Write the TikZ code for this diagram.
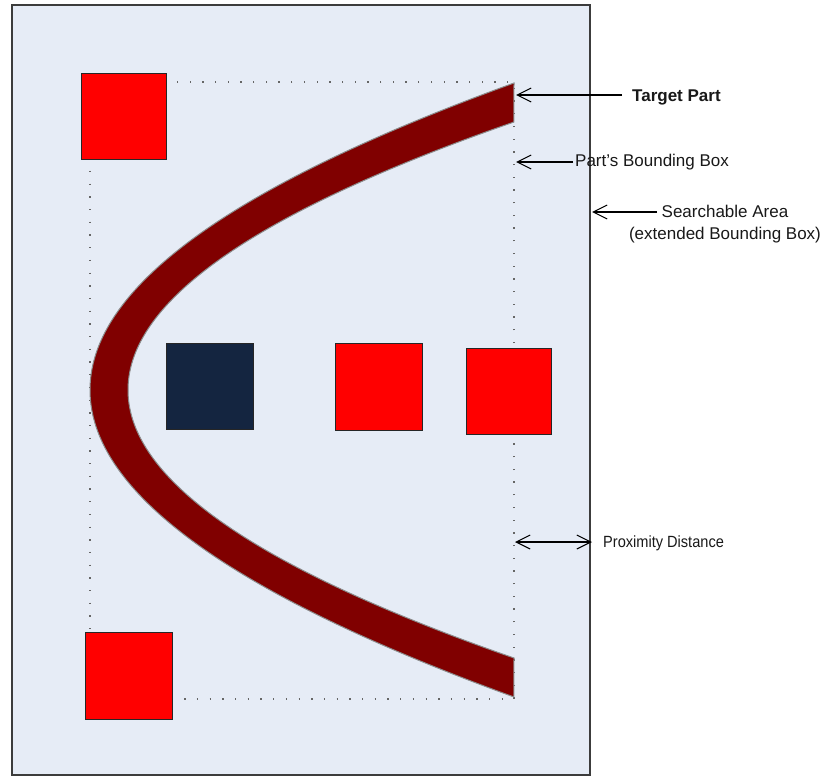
\documentclass[tikz,border=0pt]{standalone}
\usepackage{fontspec}
\setmainfont{Liberation Sans}
\newfontfamily\condfont[FakeStretch=0.9]{Liberation Sans}
\usetikzlibrary{arrows.meta}
\definecolor{bgblue}{RGB}{230,236,246}
\definecolor{framegray}{RGB}{60,60,60}
\definecolor{bandred}{RGB}{128,0,0}
\definecolor{navy}{RGB}{20,37,64}
\definecolor{txt}{RGB}{25,25,25}
\tikzset{
  sq/.style={draw=black!85, line width=1pt, inner sep=0pt, minimum width=86pt, minimum height=86pt},
  redsq/.style={sq, fill=red},
  navysq/.style={sq, fill=navy},
  bbox/.style={draw=black!60, line width=1.3pt, dash pattern=on 1.3pt off 11.4pt},
  lbl/.style={text=txt, inner sep=0pt, font=\fontsize{17}{22}\selectfont},
  ptr/.style={draw=black, line width=1.1pt, -{Straight Barb[length=14pt,width=14pt,line width=1.1pt]}},
  dptr/.style={draw=black, line width=1.1pt, {Straight Barb[length=14pt,width=14pt,line width=1.1pt]}-{Straight Barb[length=14pt,width=14pt,line width=1.1pt]}}
}
\begin{document}
\begin{tikzpicture}[x=1pt,y=-1pt]
\useasboundingbox (0,0) rectangle (824,776);
\fill[white] (0,0) rectangle (824,776);
% searchable area
\draw[fill=bgblue, draw=framegray, line width=1.6pt] (12,5) rectangle (590,775);
% part's bounding box
\draw[bbox] (90,82) rectangle (514,699);
% target part (band)
\draw[fill=bandred, draw=black!45, line width=1pt]
  plot[smooth, domain=-1:1, samples=80] ({90+424*\x*\x},{390+307*\x})
  -- (514,658)
  -- plot[smooth, domain=1:-1, samples=80] ({128+386*\x*\x},{390+268*\x})
  -- cycle;
% squares
\node[redsq, minimum width=85pt, minimum height=86pt] (r1) at (123.5,116) {};
\node[redsq, minimum width=87pt, minimum height=87pt] (r2) at (128.5,675.5) {};
\node[navysq, minimum width=87pt, minimum height=86pt] (n1) at (209.5,386) {};
\node[redsq, minimum width=87pt, minimum height=87pt] (r3) at (379,386.5) {};
\node[redsq, minimum width=85pt, minimum height=86pt] (r4) at (508.5,391) {};
% labels
\node[lbl, anchor=west, font=\fontsize{17}{22}\selectfont\bfseries] (tp) at (632,97) {Target Part};
\node[lbl, anchor=west] (pbb) at (575,162) {Part's Bounding Box};
\node[lbl, align=center] (sa) at (725,224) {Searchable Area\\(extended Bounding Box)};
\node[lbl, anchor=west, font=\fontsize{16.2}{19}\condfont] (pd) at (603,543) {Proximity Distance};
% connector coordinates
\coordinate (tpS) at (622,95);
\coordinate (tpE) at (516,95);
\coordinate (pbbS) at (573,162);
\coordinate (pbbE) at (516,162);
\coordinate (saS) at (657,212);
\coordinate (saE) at (592,212);
\coordinate (pdA) at (515,542);
\coordinate (pdB) at (592,542);
\draw[ptr] (tpS) -- (tpE);
\draw[ptr] (pbbS) -- (pbbE);
\draw[ptr] (saS) -- (saE);
\draw[dptr] (pdA) -- (pdB);
\end{tikzpicture}
\end{document}
